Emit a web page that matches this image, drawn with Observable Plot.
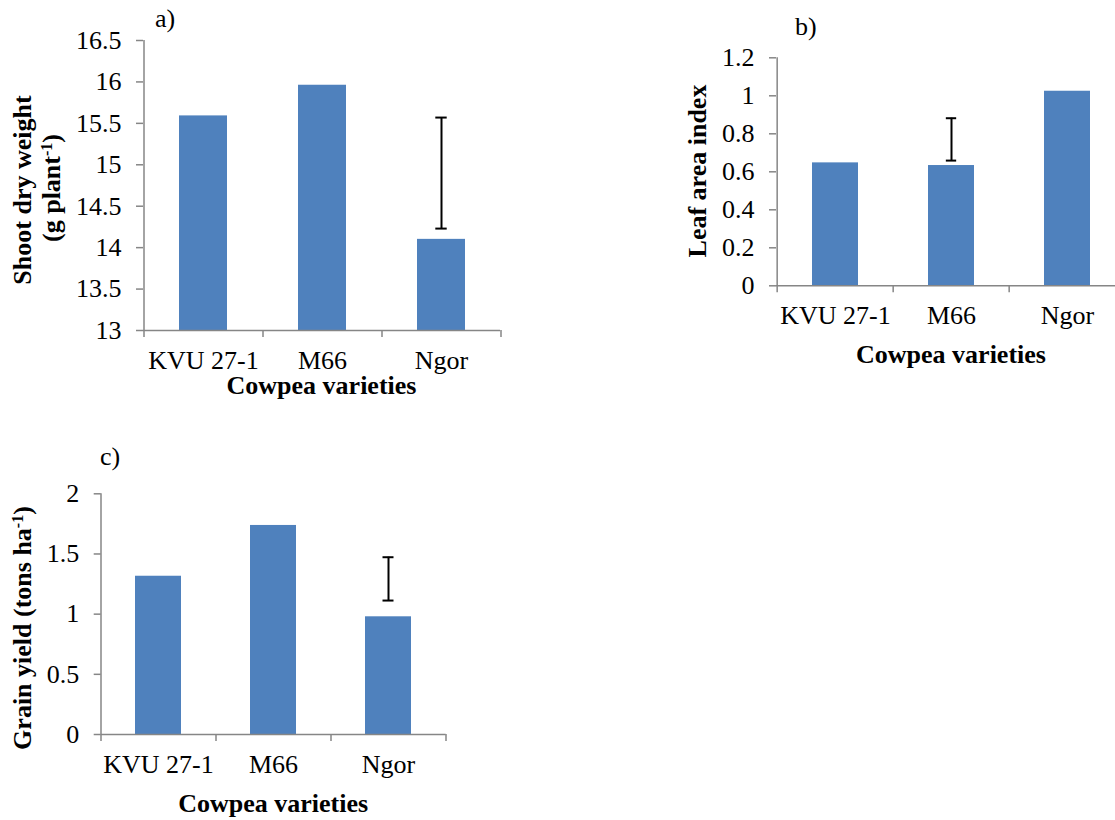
<!DOCTYPE html>
<html>
<head>
<meta charset="utf-8">
<script src="https://cdn.jsdelivr.net/npm/d3@7"></script>
<script src="https://cdn.jsdelivr.net/npm/@observablehq/plot@0.6"></script>
<style>
  html, body { margin: 0; padding: 0; background: #ffffff; }
  #wrap { position: relative; width: 1115px; height: 820px; overflow: hidden; background: #fff; }
  #wrap svg { position: absolute; overflow: visible; }
</style>
</head>
<body>
<div id="wrap"></div>
<script>
// ---------- data ----------
const varieties = ["KVU 27-1", "M66", "Ngor"];

const shootDryWeight = [15.59, 15.96, 14.10];
const shootErrVariety = ["Ngor"];
const shootErrLow = [14.23];
const shootErrHigh = [15.57];
const shootTicks = [13, 13.5, 14, 14.5, 15, 15.5, 16, 16.5];

const leafAreaIndex = [0.647, 0.633, 1.024];
const laiErrVariety = ["M66"];
const laiErrLow = [0.659];
const laiErrHigh = [0.882];
const laiTicks = [0, 0.2, 0.4, 0.6, 0.8, 1, 1.2];

const grainYield = [1.315, 1.737, 0.978];
const yieldErrVariety = ["Ngor"];
const yieldErrLow = [1.113];
const yieldErrHigh = [1.473];
const yieldTicks = [0, 0.5, 1, 1.5, 2];

const xTitle = "Cowpea varieties";

// ---------- style ----------
const FONT = "'Liberation Serif', 'Times New Roman', serif";
const BAR = "#4f81bd";
const AXIS = "#868686";
const FS = 26;

const wrap = document.getElementById("wrap");

function panel(cfg) {
  const rows = varieties.map((v, i) => ({variety: v, value: cfg.values[i]}));
  const err = cfg.errVariety.map((v, i) => ({variety: v, low: cfg.errLow[i], high: cfg.errHigh[i]}));
  const range = cfg.width - cfg.marginLeft - cfg.marginRight;
  const step = range / varieties.length;
  const bw = step * 0.4;
  const capInset = (bw - 11) / 2;
  const yMin = cfg.ticks[0], yMax = cfg.ticks[cfg.ticks.length - 1];
  const svg = Plot.plot({
    width: cfg.width,
    height: cfg.height,
    marginLeft: cfg.marginLeft,
    marginRight: cfg.marginRight,
    marginTop: cfg.marginTop,
    marginBottom: cfg.marginBottom,
    style: {fontSize: FS + "px", background: "transparent", color: "black", overflow: "visible"},
    x: {domain: varieties, paddingInner: 0.6, paddingOuter: 0.3},
    y: {domain: [yMin, yMax]},
    marks: [
      Plot.barY(rows, {x: "variety", y1: yMin, y2: "value", fill: BAR}),
      Plot.ruleY([yMin], {stroke: AXIS, strokeWidth: 1.5}),
      Plot.ruleX([varieties[0]], {dx: -step / 2, stroke: AXIS, strokeWidth: 1.5}),
      Plot.axisY(cfg.ticks, {tickSize: 7, tickPadding: 15, stroke: AXIS, strokeWidth: 1.5, fill: "black",
        fontSize: FS, tickFormat: d => String(d), label: null}),
      Plot.axisX({tickSize: 0, tickPadding: 20, fill: "black", fontSize: FS, label: null}),
      Plot.axisX({tickSize: 7, tickFormat: () => "", dx: -step / 2, stroke: AXIS, strokeWidth: 1.5, label: null}),
      Plot.axisX([varieties[varieties.length - 1]], {tickSize: 7, tickFormat: () => "", dx: step / 2, stroke: AXIS, strokeWidth: 1.5, label: null}),
      Plot.ruleX(err, {x: "variety", y1: "low", y2: "high", stroke: "black", strokeWidth: 2}),
      Plot.tickY(err, {x: "variety", y: "low", stroke: "black", strokeWidth: 2, insetLeft: capInset, insetRight: capInset}),
      Plot.tickY(err, {x: "variety", y: "high", stroke: "black", strokeWidth: 2, insetLeft: capInset, insetRight: capInset})
    ]
  });
  svg.style.left = cfg.left + "px";
  svg.style.top = cfg.top + "px";
  wrap.appendChild(svg);
  const s = d3.select(svg);
  const txt = (px, py, opts) => {
    const t = s.append("text")
      .attr("font-size", FS)
      .attr("fill", "black");
    const x = px - cfg.left, y = py - cfg.top;
    if (opts.rotate) {
      t.attr("transform", `translate(${x},${y}) rotate(-90)`).attr("text-anchor", "middle");
    } else {
      t.attr("x", x).attr("y", y).attr("text-anchor", opts.anchor || "start");
    }
    if (opts.bold) t.attr("font-weight", "bold");
    return t;
  };
  // panel letter
  txt(cfg.letterX, cfg.letterY, {}).text(cfg.letter);
  // x title
  txt(cfg.marginLeft + cfg.left + range / 2, cfg.xTitleY, {anchor: "middle", bold: true}).text(xTitle);
  // y title lines
  cfg.yTitle.forEach(line => {
    const t = txt(line.x, line.y, {rotate: true, bold: true});
    line.parts.forEach(p => {
      const ts = t.append("tspan").text(p.t);
      if (p.sup) ts.attr("baseline-shift", "super").attr("font-size", 16);
    });
  });
  // force the serif face on every text of this panel
  s.selectAll("text, tspan").style("font-family", FONT);
  s.selectAll("g").style("font-family", FONT);
  s.style("font-family", FONT);
  return svg;
}

// a) Shoot dry weight
panel({
  left: 0, top: 0, width: 520, height: 410,
  marginLeft: 143, marginRight: 20, marginTop: 40, marginBottom: 80,
  values: shootDryWeight, ticks: shootTicks,
  errVariety: shootErrVariety, errLow: shootErrLow, errHigh: shootErrHigh,
  letter: "a)", letterX: 155, letterY: 27,
  xTitleY: 394,
  yTitle: [
    {x: 31, y: 190, parts: [{t: "Shoot dry weight"}]},
    {x: 60, y: 188, parts: [{t: "(g plant"}, {t: "-1", sup: true}, {t: ")"}]}
  ]
});

// b) Leaf area index
panel({
  left: 560, top: 0, width: 580, height: 400,
  marginLeft: 216, marginRight: 14, marginTop: 57.3, marginBottom: 114.7,
  values: leafAreaIndex, ticks: laiTicks,
  errVariety: laiErrVariety, errLow: laiErrLow, errHigh: laiErrHigh,
  letter: "b)", letterX: 795, letterY: 35,
  xTitleY: 363,
  yTitle: [
    {x: 706, y: 171, parts: [{t: "Leaf area index"}]}
  ]
});

// c) Grain yield
panel({
  left: 0, top: 430, width: 480, height: 390,
  marginLeft: 100.7, marginRight: 34.3, marginTop: 63.3, marginBottom: 86,
  values: grainYield, ticks: yieldTicks,
  errVariety: yieldErrVariety, errLow: yieldErrLow, errHigh: yieldErrHigh,
  letter: "c)", letterX: 100, letterY: 465,
  xTitleY: 812,
  yTitle: [
    {x: 31, y: 628, parts: [{t: "Grain yield (tons ha"}, {t: "-1", sup: true}, {t: ")"}]}
  ]
});
</script>
</body>
</html>
